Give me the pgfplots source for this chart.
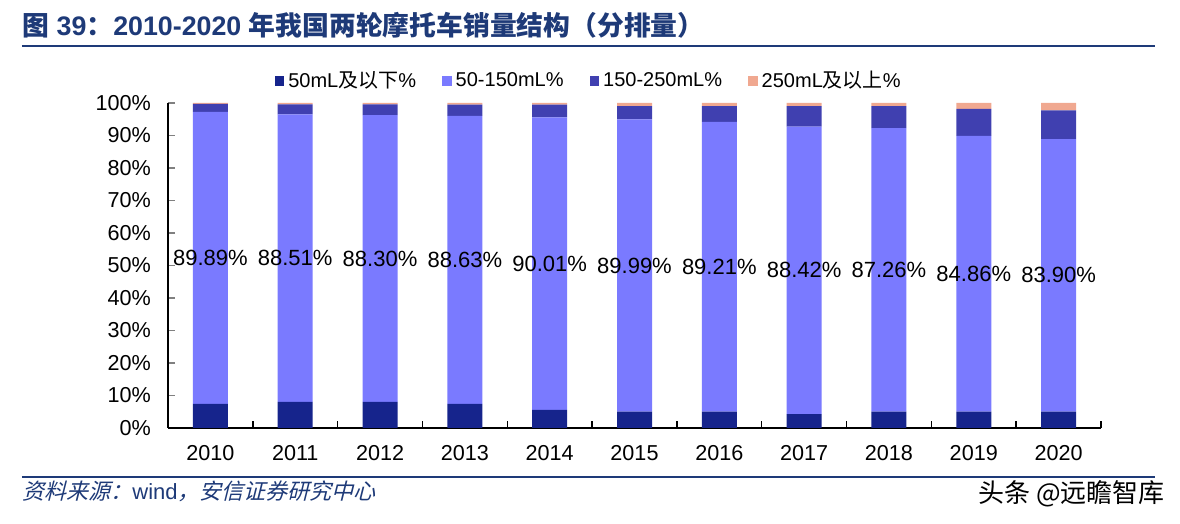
\documentclass[border=0pt]{standalone}
\usepackage{pgfplots}
\pgfplotsset{compat=1.18}
\usepackage{pgfplotstable}
\usepackage{fontspec}
\setmainfont{Liberation Sans}
\newfontfamily\cjk{Noto Sans CJK SC}
\newfontfamily\cjkslant{Noto Sans CJK SC}[FakeSlant=0.25]

\definecolor{cA}{RGB}{22,36,140}
\definecolor{cB}{RGB}{122,122,255}
\definecolor{cC}{RGB}{64,64,176}
\definecolor{cD}{RGB}{240,168,144}
\definecolor{titleblue}{RGB}{30,58,120}

% share of sales by displacement, %
\pgfplotstableread{
x  a    b      c     d
0  7.4  89.89  2.41  0.30
1  8.0  88.51  3.09  0.40
2  8.0  88.30  3.30  0.40
3  7.4  88.63  3.47  0.50
4  5.6  90.01  3.89  0.50
5  5.0  89.99  4.01  1.00
6  5.0  89.21  4.79  1.00
7  4.3  88.42  6.28  1.00
8  5.0  87.26  6.74  1.00
9  5.0  84.86  8.34  1.80
10 5.0  83.90  8.80  2.30
}\shares

\begin{document}
\begin{tikzpicture}
\path[use as bounding box] (-84pt,-48pt) rectangle (506pt,214pt);

\node[anchor=base west, text=titleblue, inner sep=0pt] at (-73pt,196pt)
  {\fontsize{13.4}{15}\selectfont\bfseries{\cjk 图} 39{\cjk ：}2010-2020 {\cjk 年我国两轮摩托车销量结构（分排量）}};
\draw[titleblue, line width=1pt] (-73pt,191pt) -- (493.5pt,191pt);

\begin{axis}[
    at={(0pt,0pt)}, anchor=south west,
    scale only axis,
    width=466.5pt, height=162.5pt,
    ybar stacked,
    bar width=17.5pt,
    xmin=-0.5, xmax=10.5,
    ymin=0, ymax=100,
    axis x line*=bottom,
    axis y line*=left,
    axis line style={line width=0.75pt},
    tick align=inside,
    major tick length=3.5pt,
    xtick={0,...,10},
    xticklabels={2010,2011,2012,2013,2014,2015,2016,2017,2018,2019,2020},
    xtick style={draw=none},
    extra x ticks={0.5,1.5,...,10.5},
    extra x tick labels={},
    extra x tick style={xtick style={draw=black, line width=0.75pt}},
    ytick={0,10,...,100},
    yticklabels={0\%,10\%,20\%,30\%,40\%,50\%,60\%,70\%,80\%,90\%,100\%},
    ytick style={line width=0.75pt},
    tick label style={font=\fontsize{10.8}{12}\selectfont},
    yticklabel style={xshift=-5pt},
    xticklabel style={yshift=-5pt},
    /pgf/number format/assume math mode=true,
    legend columns=-1,
    legend style={at={(0.452,1)}, anchor=south, yshift=2pt, draw=none,
      font=\fontsize{10}{12}\selectfont,
      /tikz/every even column/.append style={column sep=11pt}},
    legend image code/.code={\fill[#1] (0pt,-2.4pt) rectangle (4.8pt,2.4pt);},
    clip=false,
]
\addplot[fill=cA, draw=none] table[x=x, y=a] {\shares};
\addplot[fill=cB, draw=none,
    point meta=explicit,
    nodes near coords={\pgfmathprintnumber[fixed,fixed zerofill,precision=2]{\pgfplotspointmeta}\%},
    every node near coord/.append style={anchor=center, text=black,
      font=\fontsize{11}{12}\selectfont},
  ] table[x=x, y=b, meta=b] {\shares};
\addplot[fill=cC, draw=none] table[x=x, y=c] {\shares};
\addplot[fill=cD, draw=none] table[x=x, y=d] {\shares};
\legend{50mL{\cjk 及以下}\%, 50-150mL\%, 150-250mL\%, 250mL{\cjk 及以上}\%}
\end{axis}

\draw[titleblue, line width=1pt] (-73pt,-24.5pt) -- (493.5pt,-24.5pt);
\node[anchor=base west, text=titleblue, inner sep=0pt] at (-73pt,-36pt)
  {\fontsize{11}{13}\selectfont{\cjkslant 资料来源：}wind{\cjkslant ，安信证券研究中心}};
\node[anchor=base east, inner sep=0pt] at (498.5pt,-37.5pt)
  {\fontsize{13}{15}\selectfont\cjk 头条 @远瞻智库};
\end{tikzpicture}
\end{document}
